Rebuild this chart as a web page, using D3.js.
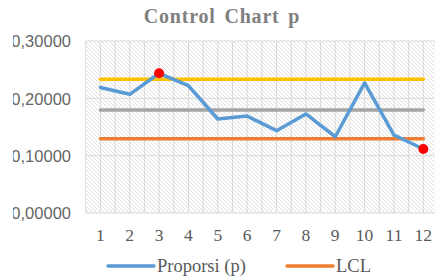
<!DOCTYPE html>
<html><head><meta charset="utf-8">
<script src="https://cdn.jsdelivr.net/npm/d3@7"></script>
<style>html,body{margin:0;padding:0;background:#fff;overflow:hidden}</style>
</head><body>
<svg id="chart" width="435" height="280"></svg>
<script>
const categories = ["1","2","3","4","5","6","7","8","9","10","11","12"];
const proporsi = [0.219, 0.207, 0.2437, 0.222, 0.164, 0.169, 0.1436, 0.1727, 0.133, 0.227, 0.136, 0.1116];
const UCL = 0.2333, CL = 0.1797, LCL = 0.1296;
const yTicks = [0, 0.1, 0.2, 0.3];
const yTickLabels = ["0,00000","0,10000","0,20000","0,30000"];
const legendItems = [{name:"Proporsi (p)", color:"#5B9BD5"}, {name:"LCL", color:"#ED7D31"}];

const svg = d3.select("#chart");
const plot = {left: 85.7, right: 438, top: 41, bottom: 213};

const x = d3.scaleBand().domain(categories).range([plot.left, plot.right]);
const y = d3.scaleLinear().domain([0, 0.3]).range([plot.bottom, plot.top]);
const cx = d => x(d) + x.bandwidth()/2;

// hatch pattern
const defs = svg.append("defs");
const pat = defs.append("pattern").attr("id","hatch").attr("patternUnits","userSpaceOnUse")
  .attr("width",4).attr("height",4);
pat.append("path").attr("d","M-1,-1 L5,5 M-1,3 L1,5 M3,-1 L5,1")
  .attr("stroke","#dcdcdc").attr("stroke-width",0.9);
defs.append("clipPath").attr("id","lclip").append("rect").attr("x",13).attr("y",0).attr("width",80).attr("height",280);

svg.append("rect").attr("x",plot.left).attr("y",plot.top)
  .attr("width",plot.right-plot.left).attr("height",plot.bottom-plot.top)
  .attr("fill","url(#hatch)");

// vertical gridlines at band edges and centers
const vlines = [];
categories.forEach(c => { vlines.push(x(c)); vlines.push(cx(c)); });
svg.append("g").selectAll("line").data(vlines).join("line")
  .attr("x1",d=>d).attr("x2",d=>d).attr("y1",plot.top).attr("y2",plot.bottom)
  .attr("stroke","#d9d9d9").attr("stroke-width",1);
// horizontal gridlines
svg.append("g").selectAll("line").data(yTicks).join("line")
  .attr("x1",plot.left).attr("x2",plot.right).attr("y1",d=>y(d)).attr("y2",d=>y(d))
  .attr("stroke","#d9d9d9").attr("stroke-width",1);

// y axis labels
const yAxis = d3.axisLeft(y).tickValues(yTicks).tickSize(0).tickPadding(0)
  .tickFormat((d,i)=>yTickLabels[i]);
const yOuter = svg.append("g").attr("clip-path","url(#lclip)");
const ya = yOuter.append("g").attr("transform","translate(71,0)");
ya.call(yAxis).call(g=>g.select(".domain").remove())
  .selectAll("text").attr("font-family","Liberation Sans, Arial, sans-serif")
  .attr("font-size","16.5px").attr("fill","#666666").attr("dy","0.35em");

// x axis labels
const xAxis = d3.axisBottom(x).tickSize(0).tickPadding(0);
svg.append("g").attr("transform",`translate(0,${plot.bottom})`).call(xAxis)
  .call(g=>g.select(".domain").remove())
  .selectAll("text").attr("font-family","Liberation Serif, Times New Roman, serif")
  .attr("font-size","17.5px").attr("fill","#595959").attr("dy","1.6em");

// control lines
const ctrl = [{v:UCL,c:"#FFC000"},{v:CL,c:"#A5A5A5"},{v:LCL,c:"#ED7D31"}];
svg.append("g").selectAll("line").data(ctrl).join("line")
  .attr("x1",cx(categories[0])).attr("x2",cx(categories[categories.length-1]))
  .attr("y1",d=>y(d.v)).attr("y2",d=>y(d.v))
  .attr("stroke",d=>d.c).attr("stroke-width",3.5).attr("stroke-linecap","round");

// proportion line
const line = d3.line().x((d,i)=>cx(categories[i])).y(d=>y(d));
svg.append("path").datum(proporsi).attr("d",line).attr("fill","none")
  .attr("stroke","#5B9BD5").attr("stroke-width",3.5).attr("stroke-linejoin","round").attr("stroke-linecap","round");

// out of control markers
const out = proporsi.map((v,i)=>({v,i})).filter(d=>d.v>UCL||d.v<LCL);
svg.append("g").selectAll("circle").data(out).join("circle")
  .attr("cx",d=>cx(categories[d.i])).attr("cy",d=>y(d.v)).attr("r",5)
  .attr("fill","#FF0000");

// title
svg.append("text").attr("x",222).attr("y",23).attr("text-anchor","middle")
  .attr("font-family","Liberation Serif, Times New Roman, serif").attr("font-weight","bold")
  .attr("font-size","20px").attr("letter-spacing","0.8px").attr("word-spacing","3px")
  .attr("fill","#7F7F7F").text("Control Chart p");

// legend
const legX = [108, 287];
const lg = svg.append("g").selectAll("g").data(legendItems).join("g")
  .attr("transform",(d,i)=>`translate(${legX[i]},266)`);
lg.append("line").attr("x1",0).attr("x2",46).attr("y1",0).attr("y2",0)
  .attr("stroke",d=>d.color).attr("stroke-width",3.5).attr("stroke-linecap","round");
lg.append("text").attr("x",49).attr("y",0).attr("dy","0.32em")
  .attr("font-family","Liberation Serif, Times New Roman, serif").attr("font-size","18.5px")
  .attr("fill","#595959").text(d=>d.name);
</script>
</body></html>
